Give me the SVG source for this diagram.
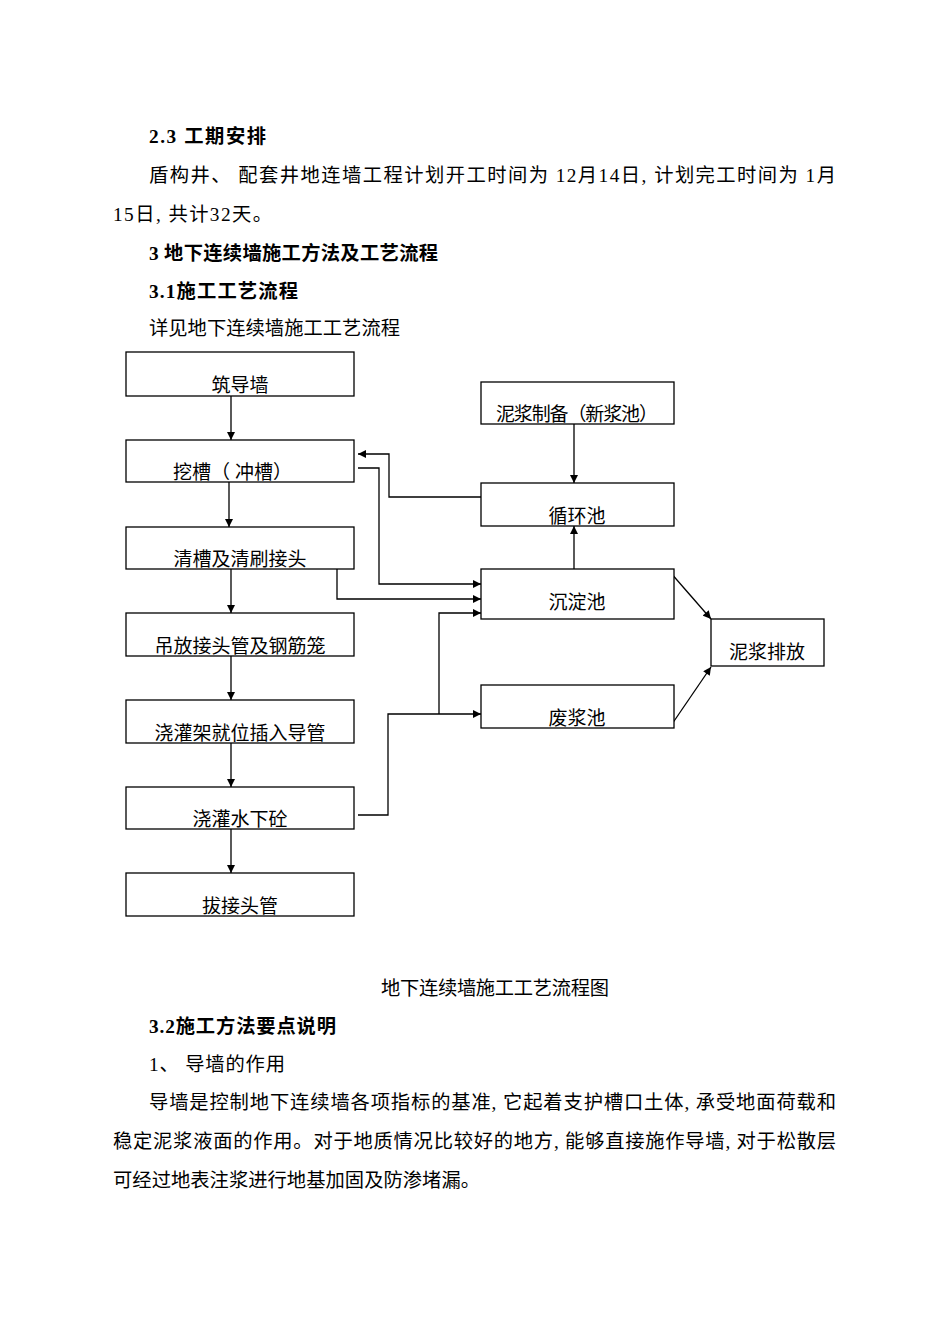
<svg xmlns="http://www.w3.org/2000/svg" width="950" height="1344" viewBox="0 0 950 1344">
<style>
text{font-family:"Liberation Serif","Noto Sans CJK SC",serif;font-size:19.3px;fill:#000}
.b{font-weight:bold}
.box rect{fill:#fff;stroke:#000;stroke-width:1.3}
.box text{text-anchor:middle;font-size:19px}
#connectors path,#connectors line{fill:none;stroke:#000;stroke-width:1.3}
.a{marker-end:url(#ah)}
</style>
<defs>
<marker id="ah" viewBox="0 0 10 10" refX="10" refY="5" markerWidth="9" markerHeight="8" markerUnits="userSpaceOnUse" orient="auto">
<path d="M0,0 L10,5 L0,10 z" fill="#000"/>
</marker>
</defs>
<rect width="950" height="1344" fill="#fff"/>
<g id="text-top">
<text class="b" x="149" y="143" textLength="117" lengthAdjust="spacing">2.3 工期安排</text>
<text x="149" y="182" textLength="687" lengthAdjust="spacing">盾构井、 配套井地连墙工程计划开工时间为 12月14日, 计划完工时间为 1月</text>
<text x="113" y="221" textLength="159" lengthAdjust="spacing">15日, 共计32天。</text>
<text class="b" x="149" y="260" textLength="289" lengthAdjust="spacing">3 地下连续墙施工方法及工艺流程</text>
<text class="b" x="149" y="298" textLength="149" lengthAdjust="spacing">3.1施工工艺流程</text>
<text x="149" y="335" textLength="251" lengthAdjust="spacing">详见地下连续墙施工工艺流程</text>
</g>
<g id="connectors">
<line class="a" x1="231" y1="396" x2="231" y2="440"/>
<line class="a" x1="229" y1="482" x2="229" y2="527"/>
<line class="a" x1="231" y1="569" x2="231" y2="613"/>
<line class="a" x1="231" y1="656" x2="231" y2="700"/>
<line class="a" x1="231" y1="743" x2="231" y2="787"/>
<line class="a" x1="231" y1="829" x2="231" y2="873"/>
<line class="a" x1="574" y1="424" x2="574" y2="483"/>
<line class="a" x1="574" y1="569" x2="574" y2="526"/>
<path class="a" d="M481,497 H389 V454 H358"/>
<path class="a" d="M358,468 H379 V584 H481"/>
<path class="a" d="M337,569 V599 H481"/>
<path class="a" d="M358,815 H388 V714 H481"/>
<path class="a" d="M439,714 V613 H481"/>
<line class="a" x1="670" y1="572" x2="711" y2="619"/>
<line class="a" x1="670" y1="727" x2="711" y2="667"/>
</g>
<g id="n1" class="box"><rect x="126" y="352" width="228" height="44"/><text x="240" y="392">筑导墙</text></g>
<g id="n2" class="box"><rect x="126" y="440" width="228" height="42"/><text x="232.5" y="479" textLength="119" lengthAdjust="spacing">挖槽（  冲槽）</text></g>
<g id="n3" class="box"><rect x="126" y="527" width="228" height="42"/><text x="240" y="566">清槽及清刷接头</text></g>
<g id="n4" class="box"><rect x="126" y="613" width="228" height="43"/><text x="240" y="653">吊放接头管及钢筋笼</text></g>
<g id="n5" class="box"><rect x="126" y="700" width="228" height="43"/><text x="240" y="740">浇灌架就位插入导管</text></g>
<g id="n6" class="box"><rect x="126" y="787" width="228" height="42"/><text x="240" y="826">浇灌水下砼</text></g>
<g id="n7" class="box"><rect x="126" y="873" width="228" height="43"/><text x="240" y="913">拔接头管</text></g>
<g id="r1" class="box"><rect x="481" y="382" width="193" height="42"/><text x="577" y="421" textLength="162" lengthAdjust="spacing">泥浆制备（新浆池）</text></g>
<g id="r2" class="box"><rect x="481" y="483" width="193" height="43"/><text x="577" y="523">循环池</text></g>
<g id="r3" class="box"><rect x="481" y="569" width="193" height="50"/><text x="577" y="609">沉淀池</text></g>
<g id="r4" class="box"><rect x="481" y="685" width="193" height="43"/><text x="577" y="725">废浆池</text></g>
<g id="r5" class="box"><rect x="711" y="619" width="113" height="47"/><text x="767" y="659">泥浆排放</text></g>
<g id="text-bottom">
<text x="381" y="995" textLength="228" lengthAdjust="spacing">地下连续墙施工工艺流程图</text>
<text class="b" x="149" y="1033" textLength="187" lengthAdjust="spacing">3.2施工方法要点说明</text>
<text x="149" y="1071" textLength="136" lengthAdjust="spacing">1、 导墙的作用</text>
<text x="149" y="1109" textLength="687" lengthAdjust="spacing">导墙是控制地下连续墙各项指标的基准, 它起着支护槽口土体, 承受地面荷载和</text>
<text x="113" y="1148" textLength="723" lengthAdjust="spacing">稳定泥浆液面的作用。对于地质情况比较好的地方, 能够直接施作导墙, 对于松散层</text>
<text x="113" y="1187" textLength="367" lengthAdjust="spacing">可经过地表注浆进行地基加固及防渗堵漏。</text>
</g>
</svg>
